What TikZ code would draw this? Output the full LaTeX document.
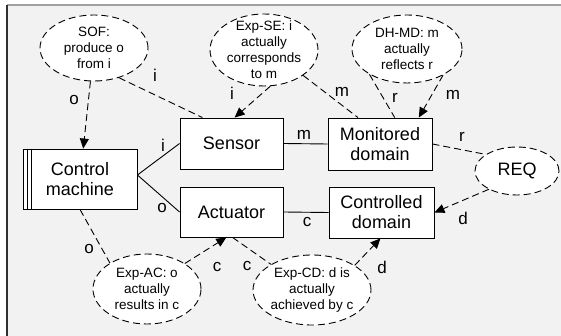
\documentclass[tikz,border=0pt]{standalone}
\usepackage{fontspec}
\setmainfont{Liberation Sans}
\usetikzlibrary{shapes.geometric,arrows.meta,calc}
\definecolor{panel}{HTML}{F2F2F2}
\definecolor{rimtop}{HTML}{A0A0A0}
\definecolor{rimleft}{HTML}{303030}
\begin{document}
\begin{tikzpicture}[x=1pt,y=-1pt,
  block/.style={draw=black, fill=white, line width=0.9pt, inner sep=0pt,
    font=\fontsize{18}{20}\selectfont, align=center},
  goal/.style={ellipse, draw=black, fill=white, line width=0.9pt,
    dash pattern=on 7pt off 4pt, inner sep=0pt},
  gtext/.style={font=\fontsize{13.5}{16}\selectfont, align=center},
  link/.style={line width=0.9pt},
  dlink/.style={line width=0.9pt, dash pattern=on 7pt off 4pt},
  tip/.style={-{Triangle[length=10pt,width=9pt]}},
  lbl/.style={font=\fontsize{17}{17}\selectfont, inner sep=0pt}]

\useasboundingbox (0,0) rectangle (561,336);
% panel with a sunken rim on the top and left
\fill[white] (0,0) rectangle (561,336);
\fill[panel] (7,5) rectangle (561,336);
\draw[rimtop, line width=1.2pt] (7,5) -- (561,5);
\draw[rimleft, line width=1.2pt] (7,5) -- (7,336);

% domains and devices
\node[block, minimum width=114pt, minimum height=60pt] (ctrl) at (80,179) {Control\\machine};
\draw[line width=0.9pt] ([xshift=4.5pt]ctrl.north west) -- ([xshift=4.5pt]ctrl.south west);
\draw[line width=0.9pt] ([xshift=9pt]ctrl.north west) -- ([xshift=9pt]ctrl.south west);
\node[block, minimum width=103pt, minimum height=51pt] (sensor) at (231.5,143.5) {Sensor};
\node[block, minimum width=103pt, minimum height=50pt] (actuator) at (231.5,212) {Actuator};
\node[block, minimum width=104pt, minimum height=52pt] (mon) at (380,144) {Monitored\\domain};
\node[block, minimum width=105pt, minimum height=51pt] (ctrld) at (381.5,212.5) {Controlled\\domain};

% requirement and properties
\node[goal, minimum width=84pt, minimum height=48pt,
  label={[font=\fontsize{18}{20}\selectfont]center:REQ}] (req) at (517,171) {};
\node[goal, minimum width=108pt, minimum height=66pt,
  label={[gtext]center:{SOF:\\produce o\\from i}}] (sof) at (94,48) {};
\node[goal, minimum width=108pt, minimum height=72pt,
  label={[gtext]center:{Exp-SE: i\\actually\\corresponds\\to m}}] (sese) at (264,50) {};
\node[goal, minimum width=110pt, minimum height=68pt,
  label={[gtext]center:{DH-MD: m\\actually\\reflects r}}] (dhmd) at (407,49) {};
\node[goal, minimum width=108pt, minimum height=70pt,
  label={[gtext]center:{Exp-AC: o\\actually\\results in c}}] (expac) at (147,289) {};
\node[goal, minimum width=118pt, minimum height=70pt,
  label={[gtext]center:{Exp-CD: d is\\actually\\achieved by c}}] (expcd) at (312,290) {};

% interfaces
\coordinate (cport) at ($(ctrl.east)+(0,-4)$);
\draw[link] (cport) -- (sensor.west);
\draw[link] (cport) -- (actuator.west);
\draw[link] (sensor.east) -- (mon.west);
\draw[link] (actuator.east) -- (ctrld.west);

% property links
\draw[dlink,tip] (sof) -- (ctrl);
\draw[dlink] (sof.-50) -- ($(sensor.north west)!0.22!(sensor.north east)$);
\draw[dlink,tip] (sese.-80) -- ($(sensor.north west)!0.53!(sensor.north east)$);
\draw[dlink] (sese.-33) -- ($(mon.north west)!0.29!(mon.north east)$);
\draw[dlink] (dhmd.-146) -- ($(mon.north west)!0.64!(mon.north east)$);
\draw[dlink,tip] (dhmd.-36) -- ($(mon.north west)!0.87!(mon.north east)$);
\draw[dlink] (mon.east) -- (req.152);
\draw[dlink,tip] (req.-147) -- (ctrld.east);
\draw[dlink] (ctrl.south) -- (expac.145);
\draw[dlink,tip] (expac.34) -- ($(actuator.south west)!0.45!(actuator.south east)$);
\draw[dlink] ($(actuator.south west)!0.51!(actuator.south east)$) -- (expcd.148);
\draw[dlink,tip] (expcd.30) -- ($(ctrld.south west)!0.49!(ctrld.south east)$);

% phenomena labels
\node[lbl] (l1) at (74,100) {o};
\node[lbl] (l2) at (155,75) {i};
\node[lbl] (l3) at (232,93) {i};
\node[lbl] (l4) at (342,92) {m};
\node[lbl] (l5) at (395,98) {r};
\node[lbl] (l6) at (453,95) {m};
\node[lbl] (l7) at (462,137) {r};
\node[lbl] (l8) at (463,218) {d};
\node[lbl] (l9) at (163,145) {i};
\node[lbl] (l10) at (162,208) {o};
\node[lbl] (l11) at (304,135) {m};
\node[lbl] (l12) at (307,222) {c};
\node[lbl] (l13) at (89,249) {o};
\node[lbl] (l14) at (217,267) {c};
\node[lbl] (l15) at (247,266) {c};
\node[lbl] (l16) at (382,267) {d};
\end{tikzpicture}
\end{document}
